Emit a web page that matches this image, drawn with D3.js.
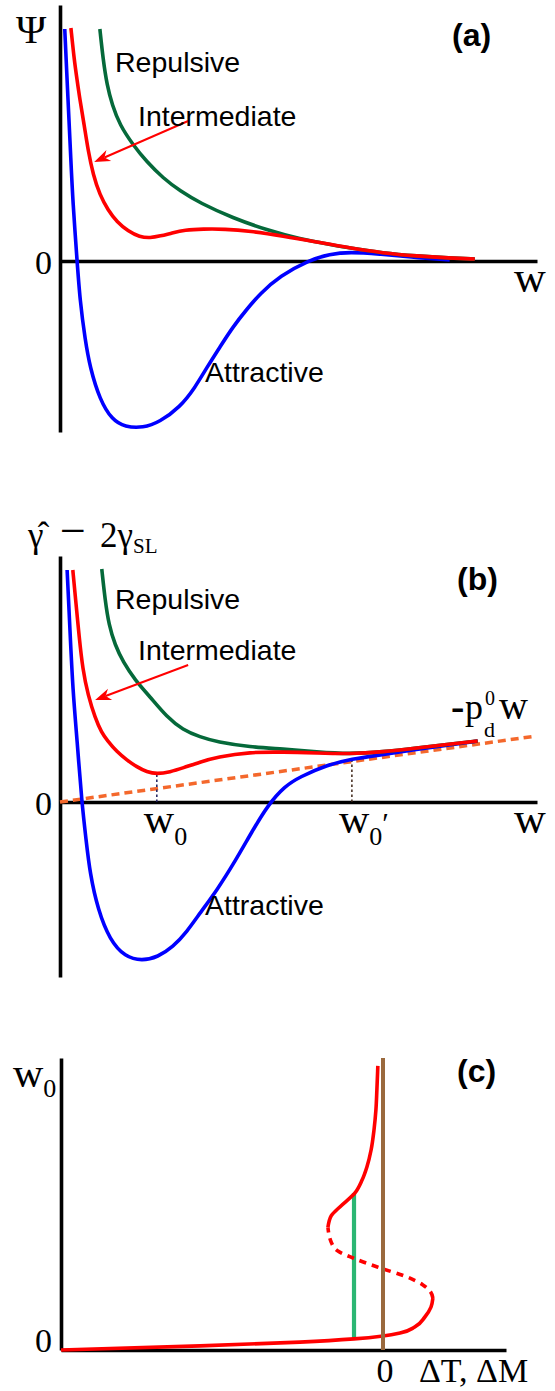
<!DOCTYPE html>
<html>
<head>
<meta charset="utf-8">
<script src="https://cdn.jsdelivr.net/npm/d3@7"></script>
<style>
  body { margin: 0; background: #fff; }
  svg { display: block; }
</style>
</head>
<body>
<svg id="fig" width="555" height="1391"></svg>
<script>
// ---------- Panel (a): interaction potential Psi(w) ----------
const aAttrW  = [0.10, 0.17, 0.23, 0.27, 0.36, 0.42, 0.53, 0.63, 0.84, 1.10, 1.37, 1.75, 2.10, 2.53, 2.84, 3.10, 3.37, 3.64, 3.94, 4.21, 4.63, 5.26, 5.68, 6.10, 6.74, 7.37, 8.21];
const aAttrV  = [11.6, 8.0, 5.0, 3.0, 0.0, -1.95, -3.95, -5.3, -6.95, -7.95, -8.3, -8.35, -8.05, -7.3, -6.35, -5.3, -4.3, -3.3, -2.4, -1.65, -0.75, 0.05, 0.35, 0.45, 0.35, 0.2, 0.05];
const aInterW = [0.23, 0.30, 0.36, 0.42, 0.51, 0.59, 0.70, 0.84, 1.01, 1.20, 1.43, 1.68, 1.90, 2.11, 2.36, 2.63, 3.01, 3.47, 4.00, 4.70, 5.41, 6.10, 6.80, 7.52, 8.21, 8.74];
const aInterV = [11.65, 10.05, 9.05, 8.05, 6.8, 5.55, 4.3, 3.3, 2.55, 1.95, 1.5, 1.2, 1.15, 1.25, 1.4, 1.55, 1.6, 1.6, 1.5, 1.25, 0.95, 0.65, 0.4, 0.25, 0.15, 0.1];
const aRepW   = [0.84, 0.91, 0.99, 1.10, 1.26, 1.54, 1.83, 2.17, 2.53, 2.95, 3.64, 4.36, 5.05, 5.75, 6.10, 6.80, 7.52, 8.21, 8.74];
const aRepV   = [11.6, 10.05, 8.8, 7.8, 6.8, 5.8, 4.95, 4.15, 3.5, 2.9, 2.15, 1.55, 1.1, 0.8, 0.65, 0.4, 0.25, 0.15, 0.1];
const aArrow  = [[2.70, 7.0], [0.72, 4.95]];

// ---------- Panel (b): gamma_hat - 2 gamma_SL ----------
const bAttrW  = [0.15, 0.21, 0.27, 0.36, 0.46, 0.55, 0.63, 0.80, 1.05, 1.37, 1.73, 2.06, 2.38, 2.67, 2.95, 3.31, 3.68, 4.04, 4.38, 4.74, 5.05, 5.62, 6.15, 6.74, 7.58, 8.21, 8.80];
const bAttrV  = [11.6, 8.6, 5.6, 3.1, -0.05, -1.9, -3.55, -5.4, -6.9, -7.75, -7.95, -7.75, -7.25, -6.5, -5.55, -4.4, -3.0, -1.5, -0.15, 0.8, 1.25, 1.85, 2.15, 2.35, 2.65, 2.85, 3.05];
const bInterW = [0.27, 0.34, 0.40, 0.48, 0.59, 0.74, 0.88, 0.99, 1.20, 1.41, 1.62, 1.83, 2.04, 2.32, 2.59, 2.95, 3.31, 4.00, 4.70, 5.41, 6.10, 6.80, 7.52, 8.21, 8.80];
const bInterV = [11.6, 9.85, 8.35, 6.6, 5.35, 4.2, 3.45, 3.1, 2.5, 2.1, 1.75, 1.5, 1.4, 1.5, 1.7, 2.0, 2.25, 2.5, 2.5, 2.45, 2.4, 2.5, 2.7, 2.9, 3.05];
const bRepW   = [0.88, 0.95, 1.03, 1.16, 1.33, 1.58, 1.90, 2.25, 2.59, 2.95, 3.31, 4.00, 4.70, 5.41, 6.10, 6.80, 7.52, 8.21, 8.80];
const bRepV   = [11.65, 10.1, 8.85, 7.85, 7.0, 6.1, 5.25, 4.25, 3.6, 3.25, 3.0, 2.75, 2.65, 2.5, 2.4, 2.5, 2.7, 2.9, 3.05];
const bLineW  = [0.0, 9.95];      // -p_d^0 w
const bLineV  = [0.0, 3.27];
const bMarkW  = [2.04, 6.15];     // w0, w0'
const bMarkV  = [1.42, 2.15];
const bArrow  = [[2.70, 6.85], [0.74, 5.1]];

// ---------- Panel (c): w0 against the undercooling / undersaturation ----------
const cLowT   = [-1.0, -0.568, -0.258, -0.09, 0.0, 0.053, 0.099, 0.13, 0.149, 0.155];
const cLowW   = [0.0, 0.14, 0.27, 0.38, 0.48, 0.58, 0.79, 1.13, 1.47, 1.78];
const cMidT   = [0.155, 0.146, 0.124, 0.075, -0.009, -0.093, -0.14, -0.161, -0.171];
const cMidW   = [1.78, 2.02, 2.23, 2.5, 2.81, 3.15, 3.39, 3.7, 4.2];
const cHighT  = [-0.171, -0.161, -0.134, -0.087, -0.065, -0.05, -0.037, -0.028, -0.022, -0.019, -0.016];
const cHighW  = [4.2, 4.59, 4.9, 5.38, 5.82, 6.27, 6.85, 7.53, 8.22, 8.9, 9.73];
const cJumpT  = [-0.09, -0.09];
const cJumpW  = [0.38, 5.38];
const cZeroT  = [0, 0];
const cZeroW  = [0, 10];

const SANS  = "'Liberation Sans', Arial, Helvetica, sans-serif";
const SERIF = "'Liberation Serif', 'Times New Roman', Times, serif";
const COL = {
  blue: '#0000ff', red: '#ff0000', green: '#05693a',
  orange: '#f4682c', jump: '#2bb673', brown: '#9a693d'
};
const LW = 3.6;

const svg = d3.select('#fig');

const xA = d3.scaleLinear().domain([0, 10.05]).range([60, 537]);
const yA = d3.scaleLinear().domain([-8.55, 12.8]).range([432, 5]);
const xB = d3.scaleLinear().domain([0, 10.05]).range([60, 537]);
const yB = d3.scaleLinear().domain([-8.75, 12.3]).range([977, 556]);
const xC = d3.scaleLinear().domain([-1, 0.382]).range([61, 506]);
const yC = d3.scaleLinear().domain([0, 10]).range([1350, 1058]);

function drawAxes(g, x, y, xAt, yAt) {
  const ax = g.append('g').attr('transform', `translate(0,${y(yAt)})`)
    .call(d3.axisBottom(x).tickValues([]).tickSizeOuter(0));
  const ay = g.append('g').attr('transform', `translate(${x(xAt)},0)`)
    .call(d3.axisLeft(y).tickValues([]).tickSizeOuter(0));
  [ax, ay].forEach(s => s.select('.domain').attr('stroke', '#000').attr('stroke-width', LW));
}

// curves in (a) and (b) are smooth functions of w; the branches in (c) are functions of w0
function curve(g, x, y, xs, ys, color, opts = {}) {
  const kind = opts.straight ? d3.curveLinear : (opts.alongY ? d3.curveMonotoneY : d3.curveBasis);
  const line = d3.line().x(d => x(d[0])).y(d => y(d[1])).curve(kind);
  g.append('path').datum(d3.zip(xs, ys))
    .attr('d', line).attr('fill', 'none')
    .attr('stroke', color).attr('stroke-width', opts.width || LW)
    .attr('stroke-linejoin', 'round')
    .attr('stroke-dasharray', opts.dash || null);
}

function arrow(g, x, y, pts, color) {
  const [x1, y1] = [x(pts[0][0]), y(pts[0][1])];
  const [x2, y2] = [x(pts[1][0]), y(pts[1][1])];
  const a = Math.atan2(y2 - y1, x2 - x1);
  const L = 16, W = 6;
  const bx = x2 - L * Math.cos(a), by = y2 - L * Math.sin(a);
  const nx = x2 - 0.7 * L * Math.cos(a), ny = y2 - 0.7 * L * Math.sin(a);
  g.append('line').attr('x1', x1).attr('y1', y1).attr('x2', nx).attr('y2', ny)
    .attr('stroke', color).attr('stroke-width', 2);
  g.append('path')
    .attr('d', `M${x2},${y2}L${bx + W * Math.sin(a)},${by - W * Math.cos(a)}L${nx},${ny}L${bx - W * Math.sin(a)},${by + W * Math.cos(a)}Z`)
    .attr('fill', color);
}

function label(g, x, y, txt, font, size, opts = {}) {
  return g.append('text').attr('x', x).attr('y', y)
    .attr('font-family', font).attr('font-size', size)
    .attr('font-weight', opts.bold ? 'bold' : 'normal')
    .attr('text-anchor', opts.anchor || 'start')
    .attr('fill', '#000').text(txt);
}

// ---------------- Panel (a) ----------------
const ga = svg.append('g');
drawAxes(ga, xA, yA, 0, 0);
curve(ga, xA, yA, aAttrW, aAttrV, COL.blue);
curve(ga, xA, yA, aRepW, aRepV, COL.green);
curve(ga, xA, yA, aInterW, aInterV, COL.red);
arrow(ga, xA, yA, aArrow, COL.red);
label(ga, 16, 43, 'Ψ', SERIF, 41);
label(ga, 452, 46, '(a)', SANS, 32, { bold: true });
label(ga, 115, 72, 'Repulsive', SANS, 28.5);
label(ga, 138, 126, 'Intermediate', SANS, 28.5);
label(ga, 205, 382, 'Attractive', SANS, 28.5);
label(ga, 52, yA(0) + 13, '0', SERIF, 34, { anchor: 'end' });
label(ga, 514, 292, 'w', SERIF, 44);

// ---------------- Panel (b) ----------------
const gb = svg.append('g');
drawAxes(gb, xB, yB, 0, 0);
curve(gb, xB, yB, bLineW, bLineV, COL.orange, { straight: true, dash: '8,5', width: 3.5 });
bMarkW.forEach((w, i) => {
  curve(gb, xB, yB, [w, w], [0, bMarkV[i]], i === 0 ? '#1c1c5c' : '#3d2416',
        { straight: true, dash: '2.5,2.5', width: 1.5 });
});
curve(gb, xB, yB, bAttrW, bAttrV, COL.blue);
curve(gb, xB, yB, bRepW, bRepV, COL.green);
curve(gb, xB, yB, bInterW, bInterV, COL.red);
arrow(gb, xB, yB, bArrow, COL.red);

// axis title: gamma-hat minus 2 gamma_SL
const title = label(gb, 28, 547, 'γ\u0302', SERIF, 35);
title.append('tspan').attr('x', 60).attr('y', 546).attr('font-size', 46).text('−');
title.append('tspan').attr('x', 100).attr('y', 547).text('2γ');
title.append('tspan').attr('font-size', 21).attr('dy', 6).text('SL');

label(gb, 457, 590, '(b)', SANS, 32, { bold: true });
label(gb, 115, 609, 'Repulsive', SANS, 28.5);
label(gb, 138, 660, 'Intermediate', SANS, 28.5);
label(gb, 205, 915, 'Attractive', SANS, 28.5);
label(gb, 52, yB(0) + 13, '0', SERIF, 34, { anchor: 'end' });
label(gb, 514, 833, 'w', SERIF, 44);

// w0 and w0' markers on the axis
const w0 = label(gb, xB(bMarkW[0]) - 13, 833, 'w', SERIF, 42);
w0.append('tspan').attr('font-size', 26).attr('dy', 12).text('0');
const w0p = label(gb, xB(bMarkW[1]) - 13, 833, 'w', SERIF, 42);
w0p.append('tspan').attr('font-size', 26).attr('dy', 12).text('0');
w0p.append('tspan').attr('font-size', 30).attr('dy', -12).text('′');

// -p_d^0 w tag on the dashed line
const tag = label(gb, 451, 720, '-', SERIF, 40, { bold: true });
tag.append('tspan').attr('x', 465).attr('y', 719).attr('font-size', 36).attr('font-weight', 'normal').text('p');
tag.append('tspan').attr('x', 485).attr('y', 705).attr('font-size', 20).attr('font-weight', 'normal').text('0');
tag.append('tspan').attr('x', 484).attr('y', 737).attr('font-size', 22).attr('font-weight', 'normal').text('d');
tag.append('tspan').attr('x', 499).attr('y', 719).attr('font-size', 40).attr('font-weight', 'normal').text('w');

// ---------------- Panel (c) ----------------
const gc = svg.append('g');
drawAxes(gc, xC, yC, -1, 0);
curve(gc, xC, yC, cJumpT, cJumpW, COL.jump, { straight: true, width: 4.2 });
curve(gc, xC, yC, cLowT, cLowW, COL.red, { alongY: true });
curve(gc, xC, yC, cMidT, cMidW, COL.red, { alongY: true, dash: '7,6' });
curve(gc, xC, yC, cHighT, cHighW, COL.red, { alongY: true });
curve(gc, xC, yC, cZeroT, cZeroW, COL.brown, { straight: true, width: 4 });

const w0c = label(gc, 13, 1087, 'w', SERIF, 42);
w0c.append('tspan').attr('font-size', 26).attr('dy', 10).text('0');
label(gc, 457, 1082, '(c)', SANS, 32, { bold: true });
label(gc, 52, 1352, '0', SERIF, 34, { anchor: 'end' });
label(gc, xC(0) + 2, 1382, '0', SERIF, 34, { anchor: 'middle' });
label(gc, 419, 1382, 'ΔT, ΔM', SERIF, 34);
</script>
</body>
</html>
